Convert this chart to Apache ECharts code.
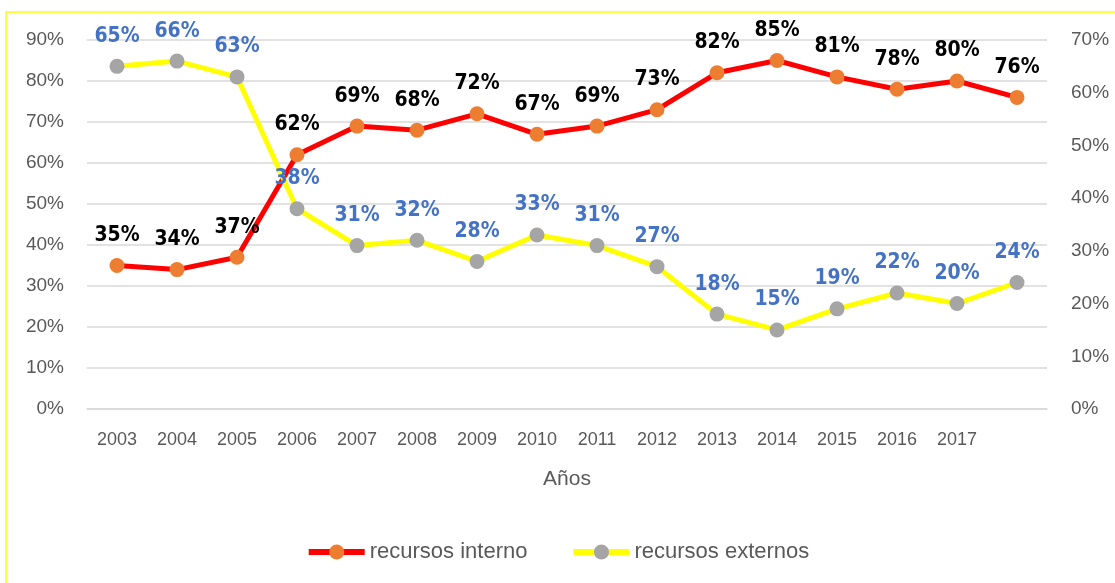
<!DOCTYPE html>
<html>
<head>
<meta charset="utf-8">
<script src="https://cdn.jsdelivr.net/npm/echarts@6/dist/echarts.min.js"></script>
<style>
  html, body { margin: 0; padding: 0; background: #fff; }
  #main { width: 1115px; height: 583px; }
</style>
</head>
<body>
<div id="main"></div>
<script>
// data
const years = ['2003','2004','2005','2006','2007','2008','2009','2010','2011','2012','2013','2014','2015','2016','2017',''];
const interno = [35, 34, 37, 62, 69, 68, 72, 67, 69, 73, 82, 85, 81, 78, 80, 76];
const externo = [65, 66, 63, 38, 31, 32, 28, 33, 31, 27, 18, 15, 19, 22, 20, 24];

document.addEventListener('DOMContentLoaded', function() {
    var chartDom = document.getElementById('main');
    var myChart = echarts.init(chartDom);

    const axisText = { color: '#595959', fontSize: 19, fontFamily: 'Liberation Sans' };
    const valueFont = { fontSize: 21, fontWeight: 'bold', fontFamily: 'DejaVu Sans Condensed' };

    var option = {
        backgroundColor: '#fff',
        animation: false,
        graphic: [{
            type: 'rect',
            shape: { x: 6, y: 12, width: 1300, height: 800 },
            style: { fill: 'none', stroke: '#FFFF00', lineWidth: 1.5 },
            silent: true
        }],
        grid: { left: 87, right: 68, top: 40, bottom: 174 },
        legend: {
            top: 536,
            left: 'center',
            itemWidth: 56,
            itemHeight: 19,
            itemGap: 43,
            lineStyle: { width: 6 },
            textStyle: { color: '#595959', fontSize: 22, fontFamily: 'Liberation Sans' },
            data: ['recursos interno', 'recursos externos']
        },
        xAxis: {
            type: 'category',
            data: years,
            name: 'Años',
            nameLocation: 'middle',
            nameGap: 60,
            nameTextStyle: { color: '#595959', fontSize: 21, fontFamily: 'Liberation Sans' },
            axisTick: { show: false },
            axisLine: { lineStyle: { color: '#D9D9D9', width: 1.5 } },
            axisLabel: Object.assign({ margin: 22, interval: 0 }, axisText, { fontSize: 18 })
        },
        yAxis: [
            {
                type: 'value',
                min: 0,
                max: 90,
                interval: 10,
                axisLabel: Object.assign({ formatter: '{value}%', margin: 23 }, axisText),
                splitLine: { lineStyle: { color: '#D9D9D9', width: 1.5 } },
                axisLine: { show: false },
                axisTick: { show: false }
            },
            {
                type: 'value',
                min: 0,
                max: 70,
                interval: 10,
                position: 'right',
                axisLabel: Object.assign({ formatter: '{value}%', margin: 24 }, axisText),
                splitLine: { show: false },
                axisLine: { show: false },
                axisTick: { show: false }
            }
        ],
        series: [
            {
                name: 'recursos interno',
                type: 'line',
                yAxisIndex: 0,
                data: interno,
                symbol: 'circle',
                symbolSize: 15,
                itemStyle: { color: '#ED7D31' },
                lineStyle: { color: '#FF0000', width: 5 },
                label: Object.assign({ show: true, position: 'top', distance: 12, color: '#000', formatter: '{c}%' }, valueFont)
            },
            {
                name: 'recursos externos',
                type: 'line',
                yAxisIndex: 1,
                data: externo,
                symbol: 'circle',
                symbolSize: 15,
                itemStyle: { color: '#A5A5A5' },
                lineStyle: { color: '#FFFF00', width: 5 },
                label: Object.assign({ show: true, position: 'top', distance: 12, color: '#4472C4', formatter: '{c}%' }, valueFont)
            }
        ]
    };

    option && myChart.setOption(option);
});
</script>
</body>
</html>
